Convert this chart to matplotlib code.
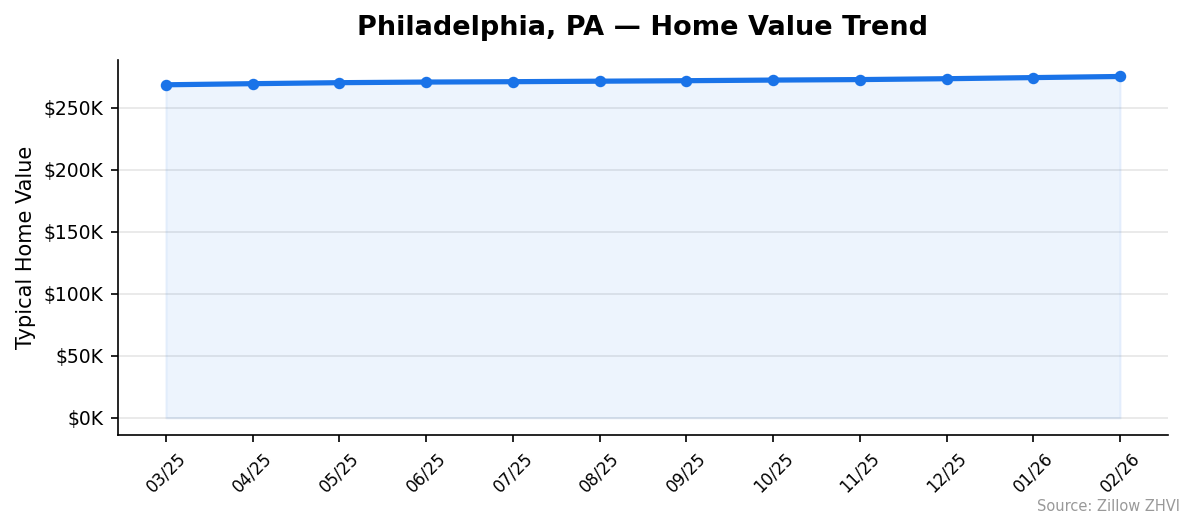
import matplotlib.pyplot as plt
from matplotlib.ticker import FuncFormatter

MONTHS = ["03/25", "04/25", "05/25", "06/25", "07/25", "08/25",
          "09/25", "10/25", "11/25", "12/25", "01/26", "02/26"]
VALUES = [268500, 269400, 270200, 270700, 271000, 271400,
          271800, 272300, 272700, 273400, 274300, 275200]

LINE_COLOR = "#1a73e8"

fig, ax = plt.subplots(figsize=(7.96, 3.527), dpi=150)
x = list(range(len(MONTHS)))
ax.fill_between(x, VALUES, color=LINE_COLOR, alpha=0.08)
ax.plot(x, VALUES, color=LINE_COLOR, linewidth=2.5, marker="o", markersize=4.5)

ax.set_ylim(-13700, 288700)
ax.set_yticks(range(0, 250001, 50000))
ax.yaxis.set_major_formatter(FuncFormatter(lambda v, _: f"${v / 1000:.0f}K"))
ax.set_xlim(-0.55, len(MONTHS) - 0.45)
ax.set_xticks(x)
ax.set_xticklabels(MONTHS, rotation=45, fontsize=8)
ax.tick_params(axis="y", labelsize=9)
ax.set_ylabel("Typical Home Value", fontsize=10)
ax.set_title("Philadelphia, PA — Home Value Trend", fontsize=13, fontweight="bold", pad=12)
ax.yaxis.grid(True, color="#e6e6e6", linewidth=0.8)
ax.set_axisbelow(True)
ax.spines["top"].set_visible(False)
ax.spines["right"].set_visible(False)

fig.text(0.988, 0.028, "Source: Zillow ZHVI", ha="right", va="bottom", fontsize=7, color="#999999")
fig.subplots_adjust(left=0.099, right=0.978, top=0.887, bottom=0.178)
fig.savefig("out.png", dpi=150)
